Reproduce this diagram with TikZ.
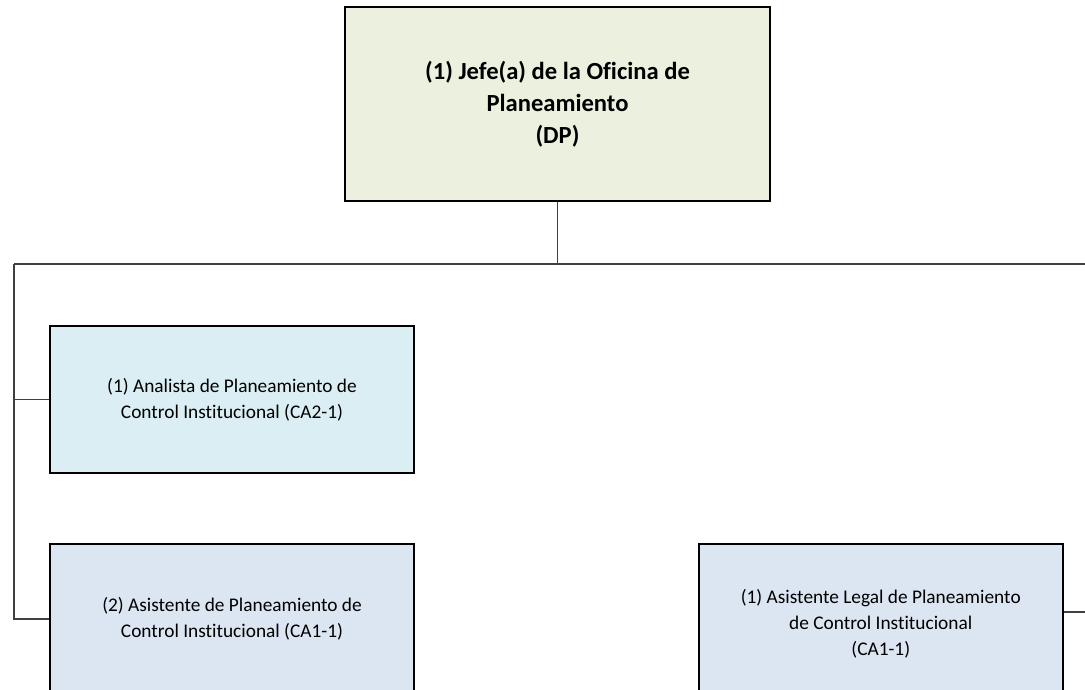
\documentclass[tikz,border=0pt]{standalone}
\usepackage{fontspec}
\setmainfont{Carlito}[Ligatures=NoCommon]
\usetikzlibrary{positioning}

\definecolor{jefefill}{HTML}{EBF1DE}
\definecolor{aquafill}{HTML}{DAEEF3}
\definecolor{bluefill}{HTML}{DCE6F2}
\definecolor{linkgray}{HTML}{404040}

\tikzset{
  jefebox/.style={draw, line width=1pt, fill=jefefill, minimum width=8.5cm,
    minimum height=3.88cm, align=center, font=\fontsize{14}{18.2}\selectfont\bfseries},
  cargobox/.style={draw, line width=1pt, minimum width=7.28cm, minimum height=2.94cm,
    align=center, font=\fontsize{11}{14.8}\selectfont},
  link/.style={draw=linkgray, line width=0.9pt}
}

\begin{document}
\begin{tikzpicture}[node distance=1.38cm]
    \useasboundingbox (0,0) rectangle (21.7,-13.8);
    \clip (0,0) rectangle (21.7,-13.8);
    \node[jefebox] (jefe) at (11.15,-2.08) {(1) Jefe(a) de la Oficina de\\Planeamiento\\(DP)};
    \node[cargobox, fill=aquafill] (analista) at (4.64,-7.99)
      {(1) Analista de Planeamiento de\\Control Institucional (CA2-1)};
    \node[cargobox, fill=bluefill, minimum height=3cm] (asistente) [below=of analista]
      {(2) Asistente de Planeamiento de\\Control Institucional (CA1-1)};
    \node[cargobox, fill=bluefill, minimum height=3.2cm] (legal) [right=5.66cm of asistente.north east, anchor=north west]
      {(1) Asistente Legal de Planeamiento\\de Control Institucional\\(CA1-1)};
    \coordinate[below=1.26cm of jefe.south] (bus);
    \coordinate (spine) at (0.28,-5.28);
    \coordinate (busend) at (22,-5.28);
    \coordinate (legalend) at (22,-12.24);
    \path[link]
    (jefe) -- (bus)
    (spine) -- (busend)
    (spine) |- (asistente)
    (analista.west) -- (analista.west -| spine)
    (legal.east |- legalend) -- (legalend)
    ;

  \end{tikzpicture}
\end{document}
